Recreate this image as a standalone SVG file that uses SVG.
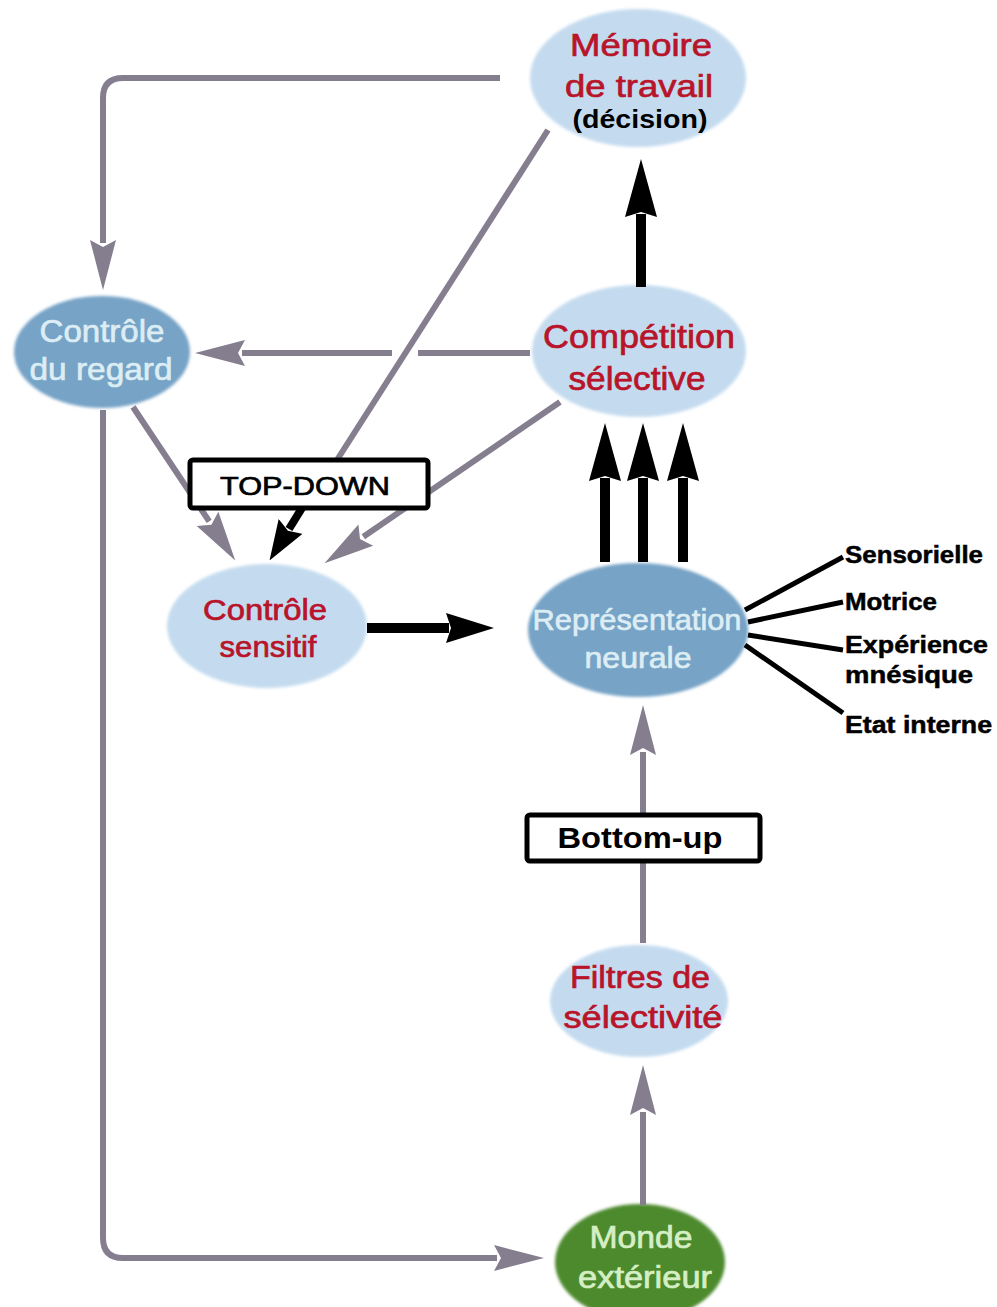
<svg xmlns="http://www.w3.org/2000/svg" width="997" height="1307" viewBox="0 0 997 1307">
<style>
  .bg{fill:#ffffff}
  .light{fill:#c4dbef}
  .steel{fill:#76a3c6}
  .green{fill:#4e8a2e}
  .t{font-family:"Liberation Sans",Arial,sans-serif;text-anchor:middle;stroke-width:0.7}
  .red{fill:#b8142a;stroke:#b8142a}
  .pale{fill:#dcedf4;stroke:#dcedf4}
  .paleg{fill:#d5efc5;stroke:#d5efc5}
  .blk{fill:#000000}
  .gl{fill:none;stroke:#857e8f;stroke-width:6}
  .bl{fill:none;stroke:#000000;stroke-width:10}
  .ln{fill:none;stroke:#000000;stroke-width:5}
  .box{fill:#ffffff;stroke:#000000;stroke-width:5}
  .lab{font-family:"Liberation Sans",Arial,sans-serif;font-weight:bold;font-size:24px;fill:#000;stroke:#000;stroke-width:0.5}
</style>
<defs>
  <filter id="soft" x="-10%" y="-10%" width="120%" height="120%"><feGaussianBlur stdDeviation="1.5"/></filter>
  <marker id="ag" markerUnits="userSpaceOnUse" markerWidth="50" markerHeight="28" viewBox="0 0 50 28" refX="3" refY="14" orient="auto">
    <path d="M0,1 L50,14 L0,27 L7,14 Z" fill="#857e8f"/>
  </marker>
  <marker id="abL" markerUnits="userSpaceOnUse" markerWidth="58" markerHeight="32" viewBox="0 0 58 32" refX="3" refY="16" orient="auto">
    <path d="M0,0 L58,16 L0,32 L5,16 Z" fill="#000"/>
  </marker>
  <marker id="abS" markerUnits="userSpaceOnUse" markerWidth="48" markerHeight="30" viewBox="0 0 48 30" refX="3" refY="15" orient="auto">
    <path d="M0,0 L48,15 L0,30 L5,15 Z" fill="#000"/>
  </marker>
  <marker id="abT" markerUnits="userSpaceOnUse" markerWidth="40" markerHeight="28" viewBox="0 0 40 28" refX="3" refY="14" orient="auto">
    <path d="M0,0 L40,14 L0,28 L5,14 Z" fill="#000"/>
  </marker>
</defs>
<rect class="bg" x="0" y="0" width="997" height="1307"/>

<g id="node-memoire">
  <ellipse class="light" cx="638" cy="78" rx="108" ry="69" filter="url(#soft)"/>
  <text class="t red" x="641" y="56" font-size="32" textLength="142" lengthAdjust="spacingAndGlyphs">Mémoire</text>
  <text class="t red" x="639" y="97" font-size="32" textLength="148" lengthAdjust="spacingAndGlyphs">de travail</text>
  <text class="t blk" x="640" y="128" font-size="25" font-weight="bold" textLength="135" lengthAdjust="spacingAndGlyphs">(décision)</text>
</g>
<g id="node-competition">
  <ellipse class="light" cx="639" cy="351" rx="107" ry="66" filter="url(#soft)"/>
  <text class="t red" x="639" y="348" font-size="33" textLength="192" lengthAdjust="spacingAndGlyphs">Compétition</text>
  <text class="t red" x="637" y="390" font-size="33" textLength="137" lengthAdjust="spacingAndGlyphs">sélective</text>
</g>
<g id="node-regard">
  <ellipse class="steel" cx="102" cy="352" rx="88" ry="56" filter="url(#soft)"/>
  <text class="t pale" x="102" y="342" font-size="32" textLength="125" lengthAdjust="spacingAndGlyphs">Contrôle</text>
  <text class="t pale" x="101" y="380" font-size="32" textLength="143" lengthAdjust="spacingAndGlyphs">du regard</text>
</g>
<g id="node-sensitif">
  <ellipse class="light" cx="267" cy="626" rx="100" ry="62" filter="url(#soft)"/>
  <text class="t red" x="265" y="620" font-size="29" textLength="124" lengthAdjust="spacingAndGlyphs">Contrôle</text>
  <text class="t red" x="268" y="657" font-size="29" textLength="97" lengthAdjust="spacingAndGlyphs">sensitif</text>
</g>
<g id="node-representation">
  <ellipse class="steel" cx="638" cy="630" rx="110" ry="67" filter="url(#soft)"/>
  <text class="t pale" x="637" y="630" font-size="30" textLength="209" lengthAdjust="spacingAndGlyphs">Représentation</text>
  <text class="t pale" x="638" y="668" font-size="30" textLength="107" lengthAdjust="spacingAndGlyphs">neurale</text>
</g>
<g id="node-filtres">
  <ellipse class="light" cx="639" cy="1001" rx="89" ry="56" filter="url(#soft)"/>
  <text class="t red" x="640" y="988" font-size="31" textLength="140" lengthAdjust="spacingAndGlyphs">Filtres de</text>
  <text class="t red" x="643" y="1028" font-size="31" textLength="159" lengthAdjust="spacingAndGlyphs">sélectivité</text>
</g>
<g id="node-monde">
  <ellipse class="green" cx="640" cy="1262" rx="85" ry="58" filter="url(#soft)"/>
  <text class="t paleg" x="641" y="1248" font-size="31" textLength="103" lengthAdjust="spacingAndGlyphs">Monde</text>
  <text class="t paleg" x="645" y="1288" font-size="31" textLength="134" lengthAdjust="spacingAndGlyphs">extérieur</text>
</g>

<g id="connectors">
  <path class="gl" d="M500,78 H123 Q103,78 103,98 V243" marker-end="url(#ag)"/>
  <path class="gl" d="M530,353 H418"/>
  <path class="gl" d="M392,353 H242" marker-end="url(#ag)"/>
  <path class="gl" d="M548,130 L337,460"/>
  <path class="gl" d="M133,407 L209.2,521.4" marker-end="url(#ag)"/>
  <path class="gl" d="M560,402 L363.3,536.8" marker-end="url(#ag)"/>
  <path class="gl" d="M643,943 V752" marker-end="url(#ag)"/>
  <path class="gl" d="M643,1205 V1112" marker-end="url(#ag)"/>
  <path class="gl" d="M103,410 V1238 Q103,1258 123,1258 H497" marker-end="url(#ag)"/>
  <path class="bl" d="M641,287 V214" marker-end="url(#abL)"/>
  <path class="bl" d="M605,562 V478" marker-end="url(#abL)"/>
  <path class="bl" d="M643,562 V478" marker-end="url(#abL)"/>
  <path class="bl" d="M683,562 V478" marker-end="url(#abL)"/>
  <path class="bl" d="M367,628 H449" marker-end="url(#abS)"/>
  <path class="ln" d="M745,610 L843,557"/>
  <path class="ln" d="M748,622 L843,602"/>
  <path class="ln" d="M748,635 L843,650"/>
  <path class="ln" d="M745,645 L843,713"/>
</g>

<g id="label-topdown">
  <rect class="box" x="190" y="460" width="238" height="48" rx="3"/>
  <path fill="none" stroke="#000" stroke-width="8" d="M302,508 L289,529" marker-end="url(#abT)"/>
  <text class="t blk" x="305" y="495" font-size="26" stroke="#000" textLength="170" lengthAdjust="spacingAndGlyphs">TOP-DOWN</text>
</g>
<g id="label-bottomup">
  <rect class="box" x="527" y="815" width="233" height="46" rx="3"/>
  <text class="t blk" x="640" y="848" font-size="30" font-weight="bold" textLength="165" lengthAdjust="spacingAndGlyphs">Bottom-up</text>
</g>

<g id="side-labels">
  <text class="lab" x="845" y="563" textLength="138" lengthAdjust="spacingAndGlyphs">Sensorielle</text>
  <text class="lab" x="845" y="610" textLength="92" lengthAdjust="spacingAndGlyphs">Motrice</text>
  <text class="lab" x="845" y="653" textLength="143" lengthAdjust="spacingAndGlyphs">Expérience</text>
  <text class="lab" x="845" y="683" textLength="128" lengthAdjust="spacingAndGlyphs">mnésique</text>
  <text class="lab" x="845" y="733" textLength="147" lengthAdjust="spacingAndGlyphs">Etat interne</text>
</g>
</svg>
